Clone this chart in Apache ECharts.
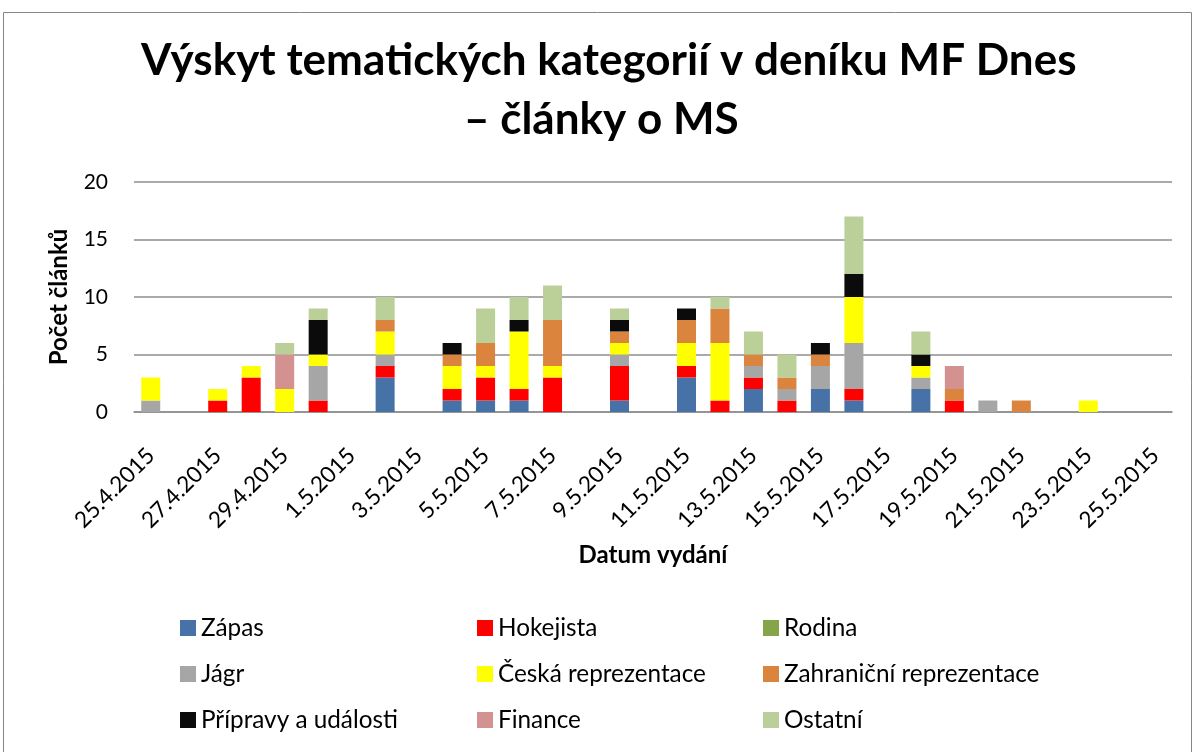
<!DOCTYPE html>
<html><head><meta charset="utf-8">
<script src="https://cdn.jsdelivr.net/npm/echarts@6/dist/echarts.min.js"></script>
<style>html,body{margin:0;padding:0;background:#fff}#c{width:1195px;height:752px}</style>
</head><body><div id="c"></div>
<script>
const categories = ['25.4.2015','26.4.2015','27.4.2015','28.4.2015','29.4.2015','30.4.2015','1.5.2015','2.5.2015','3.5.2015','4.5.2015','5.5.2015','6.5.2015','7.5.2015','8.5.2015','9.5.2015','10.5.2015','11.5.2015','12.5.2015','13.5.2015','14.5.2015','15.5.2015','16.5.2015','17.5.2015','18.5.2015','19.5.2015','20.5.2015','21.5.2015','22.5.2015','23.5.2015','24.5.2015','25.5.2015'];
const zapas      = [0,0,0,0,0,0,0,3,0,1,1,1,0,0,1,0,3,0,2,0,2,1,0,2,0,0,0,0,0,0,0];
const hokejista  = [0,0,1,3,0,1,0,1,0,1,2,1,3,0,3,0,1,1,1,1,0,1,0,0,1,0,0,0,0,0,0];
const rodina     = [0,0,0,0,0,0,0,0,0,0,0,0,0,0,0,0,0,0,0,0,0,0,0,0,0,0,0,0,0,0,0];
const jagr       = [1,0,0,0,0,3,0,1,0,0,0,0,0,0,1,0,0,0,1,1,2,4,0,1,0,1,0,0,0,0,0];
const ceska      = [2,0,1,1,2,1,0,2,0,2,1,5,1,0,1,0,2,5,0,0,0,4,0,1,0,0,0,0,1,0,0];
const zahranicni = [0,0,0,0,0,0,0,1,0,1,2,0,4,0,1,0,2,3,1,1,1,0,0,0,1,0,1,0,0,0,0];
const pripravy   = [0,0,0,0,0,3,0,0,0,1,0,1,0,0,1,0,1,0,0,0,1,2,0,1,0,0,0,0,0,0,0];
const finance    = [0,0,0,0,3,0,0,0,0,0,0,0,0,0,0,0,0,0,0,0,0,0,0,0,2,0,0,0,0,0,0];
const ostatni    = [0,0,0,0,1,1,0,2,0,0,3,2,3,0,1,0,0,1,2,2,0,5,0,2,0,0,0,0,0,0,0];
const yTicks = [0,5,10,15,20];
const titleLines = ['Výskyt tematických kategorií v deníku MF Dnes', '– články o MS'];

const seriesDefs = [
  ['Zápas', zapas, '#4672A8'],
  ['Hokejista', hokejista, '#FF0000'],
  ['Rodina', rodina, '#86A44A'],
  ['Jágr', jagr, '#A6A6A6'],
  ['Česká reprezentace', ceska, '#FFFF00'],
  ['Zahraniční reprezentace', zahranicni, '#DB843D'],
  ['Přípravy a události', pripravy, '#0B0B0B'],
  ['Finance', finance, '#D39190'],
  ['Ostatní', ostatni, '#BBCF98']
];
const FONT = 'Lato, "Open Sans", sans-serif';
const chart = echarts.init(document.getElementById('c'), null, {renderer:'canvas'});
const legendCol = (names, left) => ({
  data: names, orient:'vertical', left: left, top: 616, padding:0, itemWidth:16, itemHeight:16, itemGap:22,
  icon:'rect', textStyle:{fontFamily:FONT, fontSize:24.3, color:'#000'}, itemStyle:{borderWidth:0}, selectedMode:false
});
const titleStyle = {fontFamily:FONT, fontWeight:'bold', fontSize:44, color:'#000'};
chart.setOption({
  animation:false,
  backgroundColor:'#fff',
  graphic:[{type:'rect', shape:{x:3.5,y:12.5,width:1188,height:800}, style:{fill:'none', stroke:'#868686', lineWidth:1}}],
  title:[
    {text:titleLines[0], left:136, top:34, textStyle:titleStyle},
    {text:titleLines[1], left:459, top:93, textStyle:titleStyle}
  ],
  legend:[
    legendCol(['Zápas','Jágr','Přípravy a události'], 180),
    legendCol(['Hokejista','Česká reprezentace','Finance'], 477),
    legendCol(['Rodina','Zahraniční reprezentace','Ostatní'], 763)
  ],
  grid:{left:134, right:23, top:182, bottom:340, containLabel:false},
  xAxis:{type:'category', data:categories,
    name:'Datum vydání', nameLocation:'middle', nameGap:131,
    nameTextStyle:{fontFamily:FONT, fontWeight:'bold', fontSize:24, color:'#000'},
    axisLine:{lineStyle:{color:'#8e8e8e', width:1.5}}, axisTick:{show:false},
    axisLabel:{interval:1, rotate:45, fontFamily:FONT, fontSize:22.5, color:'#000', margin:40,
      verticalAlign:'middle', padding:[0,0,22,0]}},
  yAxis:{type:'value', min:0, max:20, interval:5,
    name:'Počet článků', nameLocation:'middle', nameGap:63, nameRotate:90,
    nameTextStyle:{fontFamily:FONT, fontWeight:'bold', fontSize:24, color:'#000'},
    axisLine:{show:false}, axisTick:{show:false},
    splitLine:{lineStyle:{color:'#8e8e8e', width:1.5}},
    axisLabel:{fontFamily:FONT, fontSize:21, color:'#000', margin:26,
      formatter:(v)=> yTicks.includes(v) ? String(v) : ''}},
  series: seriesDefs.map(([name, data, color]) => ({
    name, type:'bar', stack:'total', data, barWidth:19, itemStyle:{color}
  }))
});
</script></body></html>
